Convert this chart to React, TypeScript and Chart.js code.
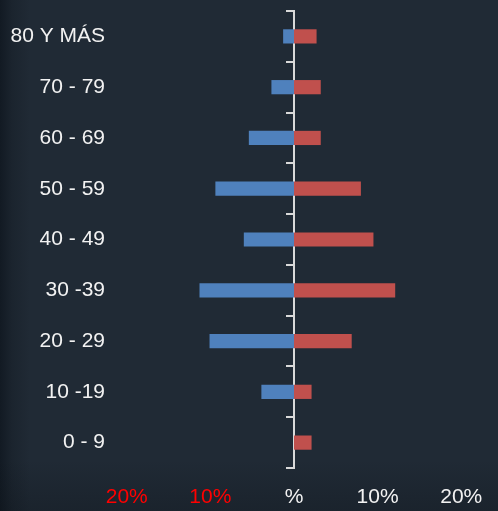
import React, { useEffect, useRef } from "react";
import { Chart, registerables } from "chart.js";

Chart.register(...registerables);

const ageGroups = ["80 Y MÁS", "70 - 79", "60 - 69", "50 - 59", "40 - 49", "30 -39", "20 - 29", "10 -19", "0 - 9"];
const menValues = [-1.3, -2.7, -5.4, -9.4, -6.0, -11.3, -10.1, -3.9, 0];
const womenValues = [2.7, 3.2, 3.2, 8.0, 9.5, 12.1, 6.9, 2.1, 2.1];
const xTickLabels: Record<string, string> = { "-20": "20%", "-10": "10%", "0": "%", "10": "10%", "20": "20%" };

const FONT = "'Liberation Sans', Arial, sans-serif";
const FONT_SIZE = 21;

export default function App() {
  const ref = useRef<HTMLCanvasElement | null>(null);
  useEffect(() => {
    document.body.style.margin = "0";
    const canvas = ref.current;
    if (!canvas) return;
    const chart = new Chart(canvas, {
      type: "bar",
      data: {
        labels: ageGroups,
        datasets: [
          { label: "Hombres", data: menValues, backgroundColor: "#4f81bd", yAxisID: "y", barPercentage: 0.28, categoryPercentage: 1 },
          { label: "Mujeres", data: womenValues, backgroundColor: "#c0504d", yAxisID: "y", barPercentage: 0.28, categoryPercentage: 1 },
        ],
      },
      options: {
        indexAxis: "y",
        animation: false,
        responsive: false,
        maintainAspectRatio: false,
        layout: { padding: { top: 11, right: 20, bottom: 0, left: 0 } },
        plugins: { legend: { display: false }, tooltip: { enabled: false } },
        scales: {
          x: {
            type: "linear",
            min: -22,
            max: 22,
            stacked: true,
            grid: { display: false, drawTicks: false },
            border: { display: false },
            ticks: {
              stepSize: 10,
              includeBounds: false,
              padding: 18.5,
              font: { family: FONT, size: FONT_SIZE, lineHeight: 1 },
              color: (ctx: any) => (ctx.tick && ctx.tick.value < 0 ? "#ff0000" : "#f2f2f2"),
              callback: (v: any) => xTickLabels[String(v)] ?? "",
            },
            afterFit: (scale: any) => {
              scale.height = 43;
              scale.paddingLeft = 0;
              scale.paddingRight = 0;
            },
          },
          y: {
            type: "category",
            position: "left",
            stacked: true,
            grid: { display: false, drawTicks: false },
            border: { display: false },
            ticks: {
              padding: 5,
              color: "#f2f2f2",
              font: { family: FONT, size: FONT_SIZE, lineHeight: 1 },
            },
            afterFit: (scale: any) => {
              scale.width = 110;
              scale.paddingTop = 0;
              scale.paddingBottom = 0;
            },
          },
          yc: {
            type: "category",
            position: { x: 0 } as any,
            offset: true,
            grid: {
              display: true,
              offset: true,
              drawOnChartArea: false,
              drawTicks: true,
              tickLength: 7,
              lineWidth: 2,
              color: "#d9d9d9",
            },
            border: { display: true, color: "#d9d9d9", width: 2 },
            ticks: { display: false },
            afterFit: (scale: any) => {
              scale.paddingTop = 0;
              scale.paddingBottom = 0;
            },
          },
        },
      },
    });
    return () => chart.destroy();
  }, []);
  return (
    <div
      style={{
        width: 498,
        height: 511,
        position: "relative",
        background:
          "linear-gradient(to right, #121a23 0px, #1b242e 12px, #202a35 30px, #202a35 100%)",
      }}
    >
      <div
        style={{
          position: "absolute",
          inset: 0,
          background: "linear-gradient(to bottom, rgba(0,0,0,0) 90%, rgba(10,15,20,0.25) 100%)",
        }}
      />
      <canvas ref={ref} width={498} height={511} style={{ position: "absolute", left: 0, top: 0, display: "block" }} />
    </div>
  );
}
